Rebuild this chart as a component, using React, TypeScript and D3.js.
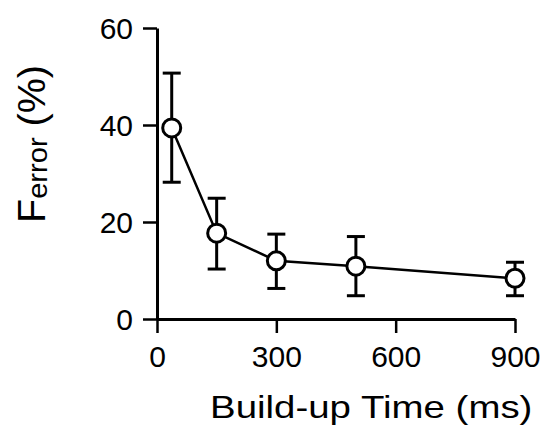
import { useEffect, useRef } from "react";
import * as d3 from "d3";

// build-up time (ms) and F_error (%) with error bar ends
const times = [37, 150, 300, 500, 900];
const means = [39.4, 17.7, 12.0, 10.9, 8.4];
const upper = [50.7, 24.9, 17.5, 17.0, 11.7];
const lower = [28.2, 10.3, 6.3, 4.8, 4.8];
const xTicks = [0, 300, 600, 900];
const yTicks = [0, 20, 40, 60];

const W = 542;
const H = 433;

const App = () => {
  const svgRef = useRef<SVGSVGElement | null>(null);

  useEffect(() => {
    const svg = d3.select(svgRef.current);
    svg.selectAll("*").remove();

    const x = d3.scaleLinear().domain([0, 900]).range([157, 515]);
    const y = d3.scaleLinear().domain([0, 60]).range([319, 28]);
    const font = "'Liberation Sans', Arial, Helvetica, sans-serif";

    const data = times.map((t, i) => ({ t, m: means[i], hi: upper[i], lo: lower[i] }));

    // axes
    const yAxis = svg
      .append("g")
      .attr("transform", `translate(${x(0)},0)`)
      .call(d3.axisLeft(y).tickValues(yTicks).tickSize(14).tickSizeOuter(0).tickPadding(10));
    const xAxis = svg
      .append("g")
      .attr("transform", `translate(0,${y(0)})`)
      .call(d3.axisBottom(x).tickValues(xTicks).tickSize(14).tickSizeOuter(0).tickPadding(13));

    [yAxis, xAxis].forEach((g) => {
      g.select(".domain").attr("stroke", "#000").attr("stroke-width", 3);
      g.selectAll(".tick line").attr("stroke", "#000").attr("stroke-width", 2.5);
      g.selectAll(".tick text")
        .attr("fill", "#000")
        .style("font-family", font)
        .style("font-size", "30px");
    });
    yAxis.selectAll(".tick text").attr("dy", "0.36em");

    // error bars
    const capW = 9;
    const eb = svg.append("g").attr("stroke", "#000").attr("stroke-width", 3);
    data.forEach((d) => {
      eb.append("line").attr("x1", x(d.t)).attr("x2", x(d.t)).attr("y1", y(d.hi)).attr("y2", y(d.lo));
      eb.append("line").attr("x1", x(d.t) - capW).attr("x2", x(d.t) + capW).attr("y1", y(d.hi)).attr("y2", y(d.hi));
      eb.append("line").attr("x1", x(d.t) - capW).attr("x2", x(d.t) + capW).attr("y1", y(d.lo)).attr("y2", y(d.lo));
    });

    // line
    const line = d3
      .line<{ t: number; m: number }>()
      .x((d) => x(d.t))
      .y((d) => y(d.m));
    svg
      .append("path")
      .datum(data)
      .attr("d", line)
      .attr("fill", "none")
      .attr("stroke", "#000")
      .attr("stroke-width", 2.5);

    // markers
    svg
      .selectAll(".dot")
      .data(data)
      .enter()
      .append("circle")
      .attr("cx", (d) => x(d.t))
      .attr("cy", (d) => y(d.m))
      .attr("r", 9)
      .attr("fill", "#fff")
      .attr("stroke", "#000")
      .attr("stroke-width", 3);

    // x label
    svg
      .append("text")
      .attr("transform", "translate(210,418) scale(1.24,1)")
      .attr("fill", "#000")
      .style("font-family", font)
      .style("font-size", "31px")
      .text("Build-up Time (ms)");

    // y label
    const yl = svg
      .append("text")
      .attr("transform", "translate(45,223) rotate(-90) scale(1.04,1)")
      .attr("fill", "#000")
      .style("font-family", font)
      .style("font-size", "38px");
    yl.append("tspan").text("F");
    yl.append("tspan").attr("dy", 2).style("font-size", "28px").text("error");
    yl.append("tspan").attr("dy", -2).text(" (%)");
  }, []);

  return (
    <svg
      ref={svgRef}
      width={W}
      height={H}
      style={{ position: "absolute", left: 0, top: 0, background: "#fff" }}
    />
  );
};

export default App;
